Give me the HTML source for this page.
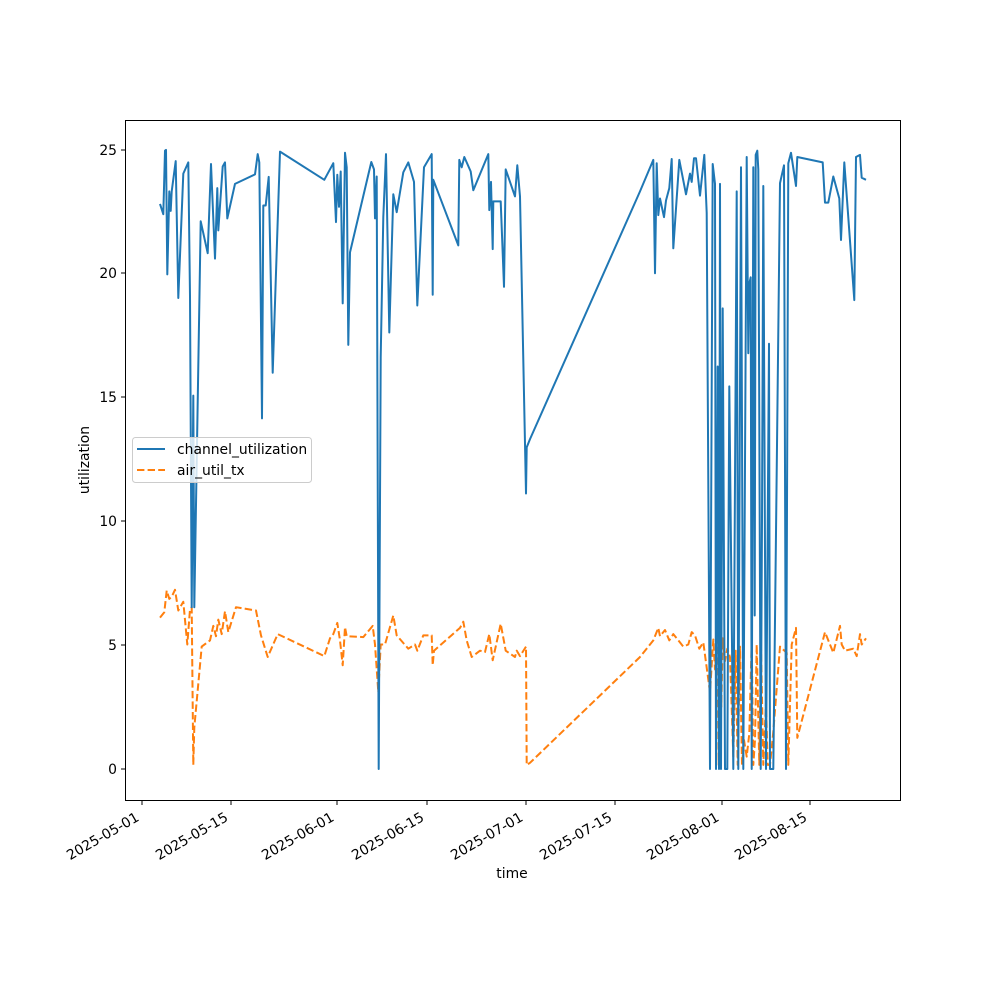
<!DOCTYPE html>
<html><head><meta charset="utf-8"><style>
html,body{margin:0;padding:0;background:#fff}
svg{display:block;font-family:"DejaVu Sans","Liberation Sans",sans-serif}
</style></head><body>
<svg id="s" width="1000" height="1000" viewBox="0 0 1000 1000">
<rect x="0" y="0" width="1000" height="1000" fill="#fff"/>
<polyline id="org" fill="none" stroke="#ff7f0e" stroke-width="2" stroke-dasharray="7.4,3.2" stroke-linejoin="round"/>
<polyline id="blu" fill="none" stroke="#1f77b4" stroke-width="2" stroke-linejoin="round"/>
<rect x="125.5" y="120.5" width="775" height="680" fill="none" stroke="#000" stroke-width="1"/>
<g stroke="#000" stroke-width="1">
<line x1="142" y1="800" x2="142" y2="805"/><line x1="231" y1="800" x2="231" y2="805"/>
<line x1="337" y1="800" x2="337" y2="805"/><line x1="427" y1="800" x2="427" y2="805"/>
<line x1="526" y1="800" x2="526" y2="805"/><line x1="615" y1="800" x2="615" y2="805"/>
<line x1="722" y1="800" x2="722" y2="805"/><line x1="810" y1="800" x2="810" y2="805"/>
<line x1="121" y1="769" x2="125" y2="769"/><line x1="121" y1="645" x2="125" y2="645"/>
<line x1="121" y1="521" x2="125" y2="521"/><line x1="121" y1="397" x2="125" y2="397"/>
<line x1="121" y1="273" x2="125" y2="273"/><line x1="121" y1="150" x2="125" y2="150"/>
</g>
<g font-size="13.9" text-anchor="end" fill="#000">
<text x="117" y="774">0</text><text x="117" y="650">5</text><text x="117" y="526">10</text>
<text x="117" y="402">15</text><text x="117" y="278">20</text><text x="117" y="155">25</text>
</g>
<g font-size="13.9" text-anchor="end" fill="#000">
<text transform="translate(140,820) rotate(-30)">2025-05-01</text>
<text transform="translate(229,820) rotate(-30)">2025-05-15</text>
<text transform="translate(335,820) rotate(-30)">2025-06-01</text>
<text transform="translate(425,820) rotate(-30)">2025-06-15</text>
<text transform="translate(524,820) rotate(-30)">2025-07-01</text>
<text transform="translate(613,820) rotate(-30)">2025-07-15</text>
<text transform="translate(720,820) rotate(-30)">2025-08-01</text>
<text transform="translate(808,820) rotate(-30)">2025-08-15</text>
</g>
<text x="512" y="878" font-size="13.9" text-anchor="middle">time</text>
<text transform="translate(89,460) rotate(-90)" font-size="13.9" text-anchor="middle">utilization</text>
<rect x="132.5" y="437.5" width="179" height="45" rx="3" fill="#fff" fill-opacity="0.8" stroke="#ccc"/>
<line x1="137" y1="449" x2="165" y2="449" stroke="#1f77b4" stroke-width="2"/>
<line x1="137" y1="470" x2="165" y2="470" stroke="#ff7f0e" stroke-width="2" stroke-dasharray="7.4,3.2"/>
<text x="177" y="454" font-size="13.9">channel_utilization</text>
<text x="177" y="475" font-size="13.9">air_util_tx</text>
</svg>
<script>
var ky=2.41;
function z1(a){var r=[];for(var i=0;i<a.length;i+=2)r.push((a[i]/3+130).toFixed(1)+","+(a[i+1]/ky+130).toFixed(1));return r;}
function z2(a){var r=[];for(var i=0;i<a.length;i+=2)r.push((a[i]/3+640).toFixed(1)+","+(a[i+1]/ky+130).toFixed(1));return r;}
var b1=[90,178,100,203,105,50,108,48,112,348,118,148,122,195,125,148,137,75,145,405,160,105,175,78,180,400,185,1150,190,640,193,1150,212,220,233,297,243,82,255,310,262,140,265,242,278,88,285,78,292,213,315,130,375,107,383,58,388,78,396,695,400,182,407,182,416,113,428,585,450,52,583,120,610,80,618,222,622,108,627,185,632,100,638,418,645,55,650,90,655,518,660,295,724,77,732,95,735,213,740,112,746,1540,752,548,760,210,768,58,778,488,790,155,800,198,820,102,835,78,852,125,862,423,882,90,905,58,908,397,910,120,985,278,988,72,995,90,1003,65,1022,100,1030,145,1075,58,1078,193,1083,125,1088,287,1090,172,1112,172,1122,378,1127,95,1155,160,1162,85,1170,160,1188,876,1190,765,1200,745];
var b2=[0,148,40,72,45,345,50,80,55,205,60,165,72,210,78,170,88,140,95,70,100,285,118,72,138,155,150,105,155,125,162,68,168,68,180,158,193,60,200,200,210,1540,218,82,225,130,228,1540,233,570,237,1540,240,130,243,1540,248,430,255,1540,262,1540,268,618,280,1540,290,148,295,1540,303,90,310,1540,320,65,325,538,328,370,332,355,335,1540,340,90,344,1170,347,60,352,50,355,95,362,1540,366,940,370,135,378,1540,383,955,387,515,390,1540,400,1540,420,128,432,85,438,1540,445,80,453,55,468,135,472,65,548,78,555,175,565,175,580,112,598,165,603,265,613,78,643,410,648,65,660,60,665,115,678,120];
var o1=[90,1175,103,1162,110,1110,118,1130,125,1125,135,1108,145,1158,160,1137,172,1240,180,1155,185,1150,190,1530,193,1440,215,1245,240,1230,250,1195,258,1220,265,1180,275,1215,285,1160,295,1210,318,1150,378,1158,393,1218,413,1270,443,1215,583,1268,600,1225,610,1215,622,1188,630,1230,638,1290,645,1198,650,1220,700,1222,728,1195,735,1240,745,1355,752,1240,765,1240,790,1170,800,1218,835,1250,855,1240,862,1255,880,1218,905,1218,908,1290,912,1255,990,1200,1000,1185,1010,1230,1025,1270,1050,1255,1065,1258,1078,1215,1088,1278,1112,1190,1127,1255,1155,1270,1160,1255,1170,1268,1188,1245,1190,1530,1200,1525];
var o2=[0,1270,40,1230,55,1200,60,1220,75,1205,88,1230,100,1215,130,1245,145,1240,155,1210,165,1218,178,1250,190,1235,210,1355,220,1228,225,1300,232,1215,236,1530,240,1250,244,1390,248,1225,255,1280,262,1250,270,1270,280,1510,287,1255,293,1530,300,1245,306,1530,312,1470,320,1510,328,1455,335,1230,340,1530,345,1470,350,1240,358,1530,363,1245,370,1530,378,1380,383,1530,390,1530,400,1450,420,1245,440,1260,445,1530,455,1240,468,1200,472,1465,555,1210,580,1260,600,1195,605,1240,615,1255,640,1250,650,1268,660,1215,665,1240,678,1225];
var bp=z1(b1).concat(z2(b2));
var op=z1(o1).concat(z2(o2));
document.getElementById("blu").setAttribute("points",bp.join(" "));
document.getElementById("org").setAttribute("points",op.join(" "));
</script>
</body></html>
